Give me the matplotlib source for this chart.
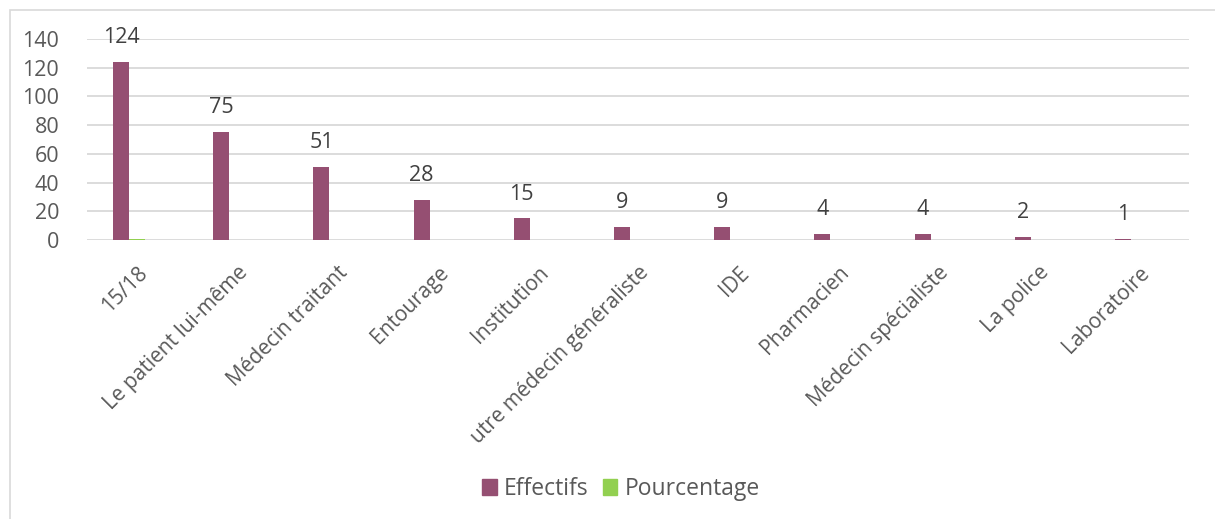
import matplotlib
matplotlib.use("Agg")
import matplotlib.pyplot as plt
import matplotlib.patches as mpatches
import numpy as np

categories = ["15/18", "Le patient lui-même", "Médecin traitant", "Entourage",
              "Institution", "utre médecin généraliste", "IDE", "Pharmacien",
              "Médecin spécialiste", "La police", "Laboratoire"]
effectifs = [124, 75, 51, 28, 15, 9, 9, 4, 4, 2, 1]
pourcentage = [0.39, 0.23, 0.16, 0.09, 0.05, 0.03, 0.03, 0.01, 0.01, 0.01, 0.00]
yticks = [0, 20, 40, 60, 80, 100, 120, 140]

PURPLE = "#954F72"
GREEN = "#92D050"
TEXT = "#595959"
GRID = "#D9D9D9"

plt.rcParams['font.family'] = ['Open Sans', 'DejaVu Sans']

W, H = 1215, 519
fig = plt.figure(figsize=(W / 100, H / 100), dpi=100)
ax = fig.add_axes([87 / W, 1 - 240 / H, (1189 - 87) / W, (240 - 39) / H])

x = np.arange(len(categories))
bw = 0.16
ax.bar(x - 0.16, effectifs, width=bw, color=PURPLE, zorder=3)
ax.bar(x, pourcentage, width=bw, color=GREEN, zorder=3)

for xi, v in zip(x, effectifs):
    ax.annotate(str(v), (xi - 0.16, v), xytext=(0, 10), textcoords="offset points",
                ha="center", va="bottom", fontsize=15.5, color="#404040")

ax.set_xlim(-0.5, len(categories) - 0.5)
ax.set_ylim(0, 140)
ax.set_yticks(yticks)
ax.yaxis.grid(True, color=GRID, lw=1.3, zorder=0)
ax.set_axisbelow(True)
for s in ax.spines.values():
    s.set_visible(False)
ax.tick_params(axis="y", length=0, pad=20, labelsize=15.5, labelcolor=TEXT)
ax.set_yticklabels([str(t) for t in yticks], ha="right")
ax.set_xticks(x)
ax.set_xticklabels(categories, rotation=45, ha="right", va="top",
                   rotation_mode="anchor", fontsize=15, color=TEXT)
ax.tick_params(axis="x", length=0, pad=16)

# chart border (only left/top visible)
fig.patches.append(mpatches.Rectangle((10.5 / W, -0.1), 2, 1.1 - 9.5 / H,
                                      transform=fig.transFigure, fill=False,
                                      edgecolor=GRID, lw=1.2))

handles = [mpatches.Patch(color=PURPLE, label="Effectifs"),
           mpatches.Patch(color=GREEN, label="Pourcentage")]
fig.legend(handles=handles, loc="center", bbox_to_anchor=(621 / W, 1 - 489 / H),
           ncol=2, frameon=False, fontsize=16.5, labelcolor=TEXT,
           handlelength=0.65, handleheight=0.65, handletextpad=0.3, columnspacing=0.6)

fig.savefig("out.png", dpi=100)
